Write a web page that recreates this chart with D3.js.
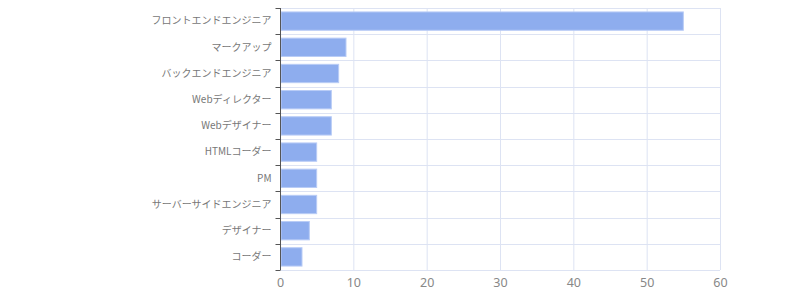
<!DOCTYPE html>
<html>
<head>
<meta charset="utf-8">
<script src="https://cdn.jsdelivr.net/npm/d3@7"></script>
<style>
	body { margin: 0; background: #fff; }
	svg { display: block; }
	.y-axis text { font-family: "Noto Sans CJK JP", "Noto Sans", sans-serif; font-size: 10px; fill: #777; }
	.x-axis text { font-family: "Noto Sans", sans-serif; font-size: 12.5px; fill: #888; }
</style>
</head>
<body>
<svg id="chart"></svg>
<script>
// job titles and counts
var categories = ['フロントエンドエンジニア', 'マークアップ', 'バックエンドエンジニア', 'Webディレクター', 'Webデザイナー', 'HTMLコーダー', 'PM', 'サーバーサイドエンジニア', 'デザイナー', 'コーダー'];
var counts = [55, 9, 8, 7, 7, 5, 5, 5, 4, 3];
var xTicks = [0, 10, 20, 30, 40, 50, 60];

var width = 800, height = 300;
var margin = {top: 8, right: 80, bottom: 30, left: 280};

var svg = d3.select('#chart').attr('width', width).attr('height', height);

var xScale = d3.scaleLinear()
	.domain([0, 60])
	.range([margin.left, width - margin.right]);

var yScale = d3.scaleBand()
	.domain(categories)
	.range([margin.top, height - margin.bottom])
	.paddingInner(0.3)
	.paddingOuter(0.15);

// band boundaries (full step, not the padded bars)
var fullStep = (height - margin.bottom - margin.top) / categories.length;
var boundaries = d3.range(categories.length + 1).map(function(i) { return margin.top + i * fullStep; });

// grid
var grid = svg.append('g').attr('class', 'grid');
grid.selectAll('line.v')
	.data(xTicks)
	.enter().append('line')
	.attr('x1', function(d) { return xScale(d) + 0.5; })
	.attr('x2', function(d) { return xScale(d) + 0.5; })
	.attr('y1', margin.top)
	.attr('y2', height - margin.bottom)
	.attr('stroke', '#dde3f3');
grid.selectAll('line.h')
	.data(boundaries)
	.enter().append('line')
	.attr('x1', margin.left)
	.attr('x2', width - margin.right)
	.attr('y1', function(d) { return Math.round(d) + 0.5; })
	.attr('y2', function(d) { return Math.round(d) + 0.5; })
	.attr('stroke', '#dde3f3');

// bars
svg.selectAll('rect.bar')
	.data(categories)
	.enter().append('rect')
	.attr('class', 'bar')
	.attr('x', xScale(0) + 1)
	.attr('y', function(d) { return yScale(d); })
	.attr('width', function(d, i) { return xScale(counts[i]) - xScale(0) - 1; })
	.attr('height', yScale.bandwidth())
	.attr('fill', '#8eadee')
	.attr('stroke', '#b9ccf6')
	.attr('stroke-width', 1);

// x axis
var xAxis = svg.append('g')
	.attr('class', 'x-axis')
	.attr('transform', 'translate(0,' + (height - margin.bottom) + ')')
	.call(d3.axisBottom(xScale).tickValues(xTicks).tickSize(0).tickPadding(8));
xAxis.select('.domain').remove();

// y axis
var yAxis = svg.append('g')
	.attr('class', 'y-axis')
	.attr('transform', 'translate(' + (margin.left + 0.5) + ',0)')
	.call(d3.axisLeft(yScale).tickSize(0).tickPadding(9));
yAxis.select('.domain')
	.attr('d', 'M0,' + margin.top + 'V' + (height - margin.bottom))
	.attr('stroke', '#555');
yAxis.selectAll('.tickmark')
	.data(boundaries)
	.enter().append('line')
	.attr('class', 'tickmark')
	.attr('x1', -5).attr('x2', 0)
	.attr('y1', function(d) { return Math.round(d) + 0.5; })
	.attr('y2', function(d) { return Math.round(d) + 0.5; })
	.attr('stroke', '#555');
</script>
</body>
</html>
